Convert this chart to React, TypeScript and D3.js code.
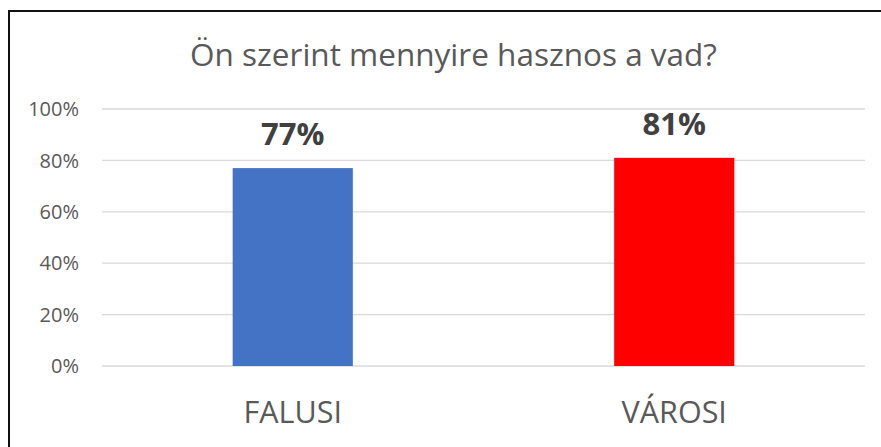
import React from "react";
import * as d3 from "d3";

const title = "Ön szerint mennyire hasznos a vad?";
const categories = ["FALUSI", "VÁROSI"];
const values = [0.77, 0.81];
const barColors = ["#4472C4", "#FF0000"];
const valueLabels = ["77%", "81%"];
const ticks = [0, 0.2, 0.4, 0.6, 0.8, 1.0];

const W = 881;
const H = 447;
const plot = { left: 102, right: 865, top: 109, bottom: 366 };
const FONT = "'Open Sans', Lato, sans-serif";

export default function App() {
  const x = d3
    .scaleBand<string>()
    .domain(categories)
    .range([plot.left, plot.right])
    .paddingInner(0.685)
    .paddingOuter(0.3425);
  const y = d3.scaleLinear().domain([0, 1]).range([plot.bottom, plot.top]);
  const fmt = d3.format(".0%");

  return (
    <svg
      width={W}
      height={H}
      style={{ position: "absolute", left: 0, top: 0, display: "block" }}
    >
      <rect x={0} y={0} width={W} height={H} fill="#ffffff" />
      {/* outer frame (left and top visible) */}
      <line x1={9} y1={11} x2={W + 5} y2={11} stroke="#111" strokeWidth={2} />
      <line x1={9} y1={10} x2={9} y2={H + 5} stroke="#111" strokeWidth={2} />

      <text
        x={453.5}
        y={65.5}
        textAnchor="middle"
        fontFamily={FONT}
        fontSize={31.5}
        fill="#595959"
      >
        {title}
      </text>

      {ticks.map((t) => (
        <g key={t}>
          <line
            x1={plot.left}
            x2={plot.right}
            y1={y(t)}
            y2={y(t)}
            stroke="#D9D9D9"
            strokeWidth={1.3}
          />
          <text
            x={79}
            y={y(t)}
            dy="0.36em"
            textAnchor="end"
            fontFamily={FONT}
            fontSize={20}
            fill="#595959"
          >
            {fmt(t)}
          </text>
        </g>
      ))}

      {categories.map((c, i) => (
        <g key={c}>
          <rect
            x={x(c)!}
            y={y(values[i])}
            width={x.bandwidth()}
            height={y(0) - y(values[i])}
            fill={barColors[i]}
          />
          <text
            x={x(c)! + x.bandwidth() / 2}
            y={y(values[i]) - 23}
            textAnchor="middle"
            fontFamily={FONT}
            fontWeight="bold"
            fontSize={31}
            fill="#404040"
          >
            {valueLabels[i]}
          </text>
          <text
            x={x(c)! + x.bandwidth() / 2}
            y={423}
            textAnchor="middle"
            fontFamily={FONT}
            fontSize={30.5}
            fill="#595959"
          >
            {c}
          </text>
        </g>
      ))}
    </svg>
  );
}
